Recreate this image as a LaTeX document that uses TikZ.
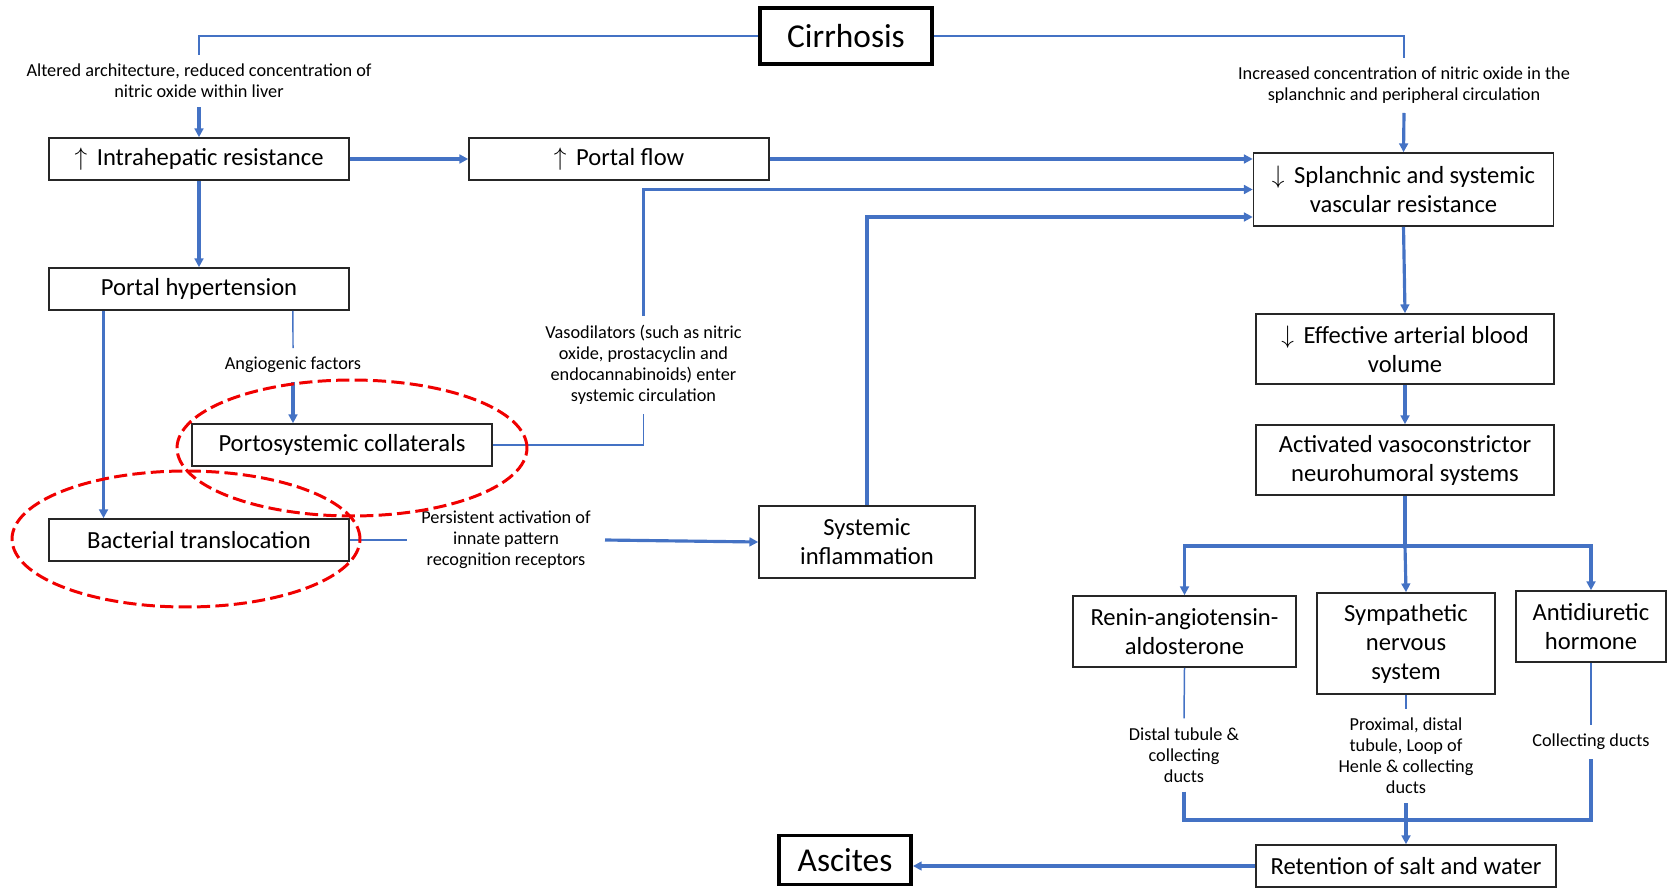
\documentclass[tikz,border=0pt]{standalone}
\usepackage{fontspec}
\setmainfont{Carlito}
\usetikzlibrary{arrows.meta}
\definecolor{flowblue}{RGB}{68,114,196}
\definecolor{markred}{RGB}{240,0,0}
\tikzset{
  box/.style={draw=black!85, line width=0.9pt, align=center, inner sep=0pt, font=\fontsize{14}{16.5}\selectfont},
  keybox/.style={draw=black, line width=2.2pt, align=center, inner sep=0pt, font=\fontsize{19}{22}\selectfont},
  note/.style={align=center, inner xsep=2pt, inner ysep=5pt, font=\fontsize{10.4}{12}\selectfont},
  link/.style={flowblue, line width=0.85pt},
  bar/.style={flowblue, line width=1.8pt},
  flow/.style={bar, -{Triangle[length=5pt,width=5pt]}},
  circled/.style={markred, line width=1.7pt, dash pattern=on 7.5pt off 3pt},
}
\begin{document}
\begin{tikzpicture}[x=0.02cm,y=-0.02cm]
\useasboundingbox (0,0) rectangle (1669,888);
% boxes
\node[keybox, minimum width=3.45cm, minimum height=1.12cm] (cirr) at (846,36) {Cirrhosis};
\node[box, minimum width=6cm, minimum height=0.84cm] (intra) at (199,159) {$\uparrow$\, Intrahepatic resistance};
\node[box, minimum width=6cm, minimum height=0.84cm] (pflow) at (619,159) {$\uparrow$\, Portal flow};
\node[box, minimum width=6cm, minimum height=0.84cm] (phyp) at (199,289) {Portal hypertension};
\node[box, minimum width=6cm, minimum height=0.84cm] (porto) at (342,445) {Portosystemic collaterals};
\node[box, minimum width=6cm, minimum height=0.84cm] (bact) at (199,540) {Bacterial translocation};
\node[box, minimum width=4.32cm, minimum height=1.44cm] (sysinf) at (867,542) {Systemic\\ inflammation};
\node[box, minimum width=6cm, minimum height=1.46cm] (splanch) at (1403.5,189.5) {$\downarrow$\, Splanchnic and systemic\\ vascular resistance};
\node[box, minimum width=5.96cm, minimum height=1.4cm] (effect) at (1405,349) {$\downarrow$\, Effective arterial blood\\ volume};
\node[box, minimum width=5.96cm, minimum height=1.4cm] (activ) at (1405,460) {Activated vasoconstrictor\\ neurohumoral systems};
\node[box, minimum width=4.46cm, minimum height=1.42cm] (renin) at (1184.5,631.5) {Renin-angiotensin-\\ aldosterone};
\node[box, minimum width=3.56cm, minimum height=2.02cm] (symp) at (1406,643.5) {Sympathetic\\ nervous\\ system};
\node[box, minimum width=3cm, minimum height=1.42cm] (antid) at (1591,626.5) {Antidiuretic\\ hormone};
\node[box, minimum width=6cm, minimum height=0.84cm] (retent) at (1406,866) {Retention of salt and water};
\node[keybox, minimum width=2.64cm, minimum height=0.98cm] (ascites) at (845,860) {Ascites};
% notes on the links
\node[note] (altered) at (199,81) {Altered architecture, reduced concentration of\\ nitric oxide within liver};
\node[note] (incr) at (1404,85.5) {Increased concentration of nitric oxide in the\\ splanchnic and peripheral circulation};
\node[note] (angio) at (293,365) {Angiogenic factors};
\node[note] (vaso) at (643.5,365) {Vasodilators (such as nitric\\ oxide, prostacyclin and\\ endocannabinoids) enter\\ systemic circulation};
\node[note, inner xsep=8pt] (persist) at (506,540) {Persistent activation of\\ innate pattern\\ recognition receptors};
\node[note] (distal) at (1184,755) {Distal tubule \&\\ collecting\\ ducts};
\node[note] (prox) at (1406,756) {Proximal, distal\\ tubule, Loop of\\ Henle \& collecting\\ ducts};
\node[note] (colduct) at (1591,742) {Collecting ducts};
\coordinate (split) at (1405,546);
\coordinate (merge) at (1406,820);
% links
\draw[link] (cirr.west) -| (altered.north);
\draw[link] (cirr.east) -| (incr.north);
\draw[flow] (altered.south) -- (intra.north);
\draw[flow] (incr.south) -- (splanch.north);
\draw[flow] (intra.east) -- (pflow.west);
\draw[flow] (pflow.east) -- (pflow.east -| splanch.west);
\draw[flow] (vaso.north) |- (splanch.west);
\draw[flow] (sysinf.north) |- ([yshift=-0.55cm]splanch.west);
\draw[flow] (intra.south) -- (phyp.north);
\draw[flow] ([xshift=-1.91cm]phyp.south) -- ([xshift=-1.91cm]bact.north);
\draw[link] ([xshift=1.88cm]phyp.south) -- (angio.north);
\draw[flow] (angio.south) -- (angio.south |- porto.north);
\draw[link] (porto.east) -| (vaso.south);
\draw[link] (bact.east) -- (persist.west);
\draw[flow] (persist.east) -- (sysinf.west);
\draw[flow] (splanch.south) -- (effect.north);
\draw[flow] (effect.south) -- (activ.north);
\draw[bar] (activ.south) -- (split);
\draw[flow] (split) -| (renin.north);
\draw[flow] (split) -| (antid.north);
\draw[flow] (split) -- (symp.north);
\draw[link] (renin.south) -- (distal.north);
\draw[link] (symp.south) -- (prox.north);
\draw[link] (antid.south) -- (colduct.north);
\draw[bar] (distal.south) |- (merge);
\draw[bar] (colduct.south) |- (merge);
\draw[flow] (prox.south) -- (retent.north);
\draw[flow] (retent.west) -- (retent.west -| ascites.east);
% red marks
\draw[circled] (352,448) ellipse [x radius=3.5cm, y radius=1.36cm];
\draw[circled] (186,539) ellipse [x radius=3.48cm, y radius=1.36cm];
\end{tikzpicture}
\end{document}
